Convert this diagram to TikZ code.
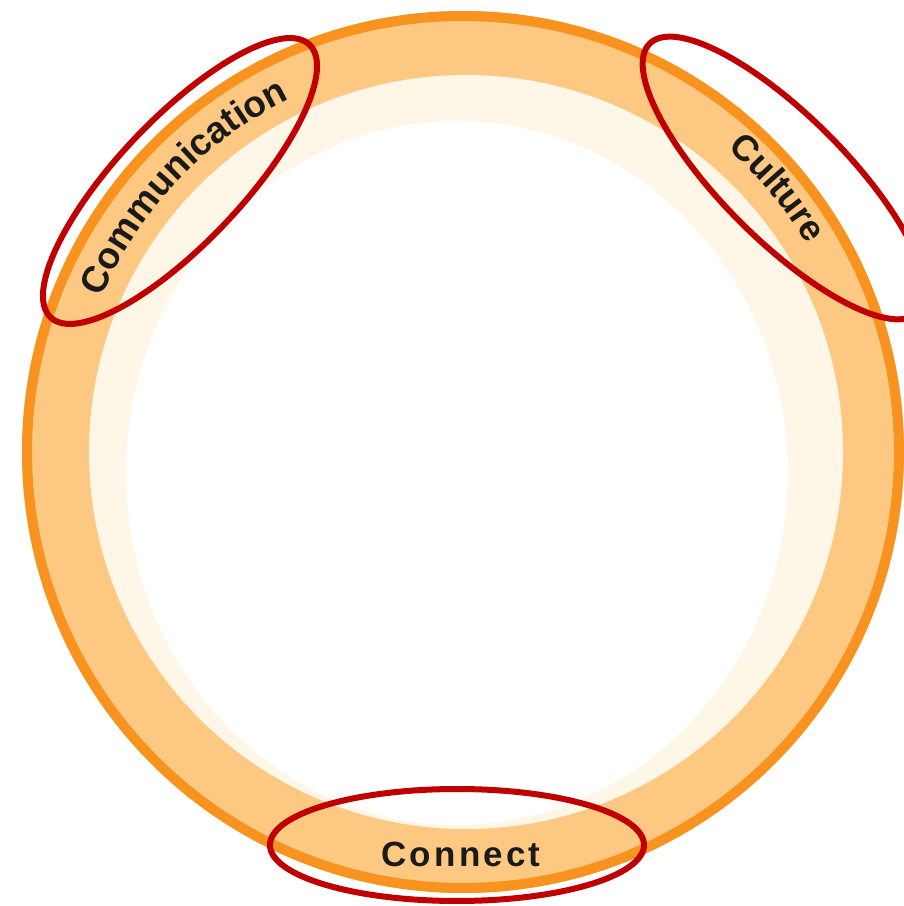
\documentclass[tikz,border=0pt]{standalone}
\usepackage{fontspec}
\setmainfont{Liberation Sans}
\usetikzlibrary{decorations.text,calc}
\definecolor{ringdark}{HTML}{F7931E}
\definecolor{ringlight}{HTML}{FDC982}
\definecolor{cream}{HTML}{FEF6E6}
\definecolor{markred}{HTML}{C00000}
\definecolor{inktext}{HTML}{1A1A1A}
\tikzset{
  marker/.style={draw=markred, line width=6},
  arclabel/.style={decorate, decoration={text along path, text align=center, text color=inktext, text={#1}}}
}
\begin{document}
\begin{tikzpicture}[x=1pt,y=1pt]
\useasboundingbox (0,0) rectangle (904,906);
\clip (0,0) rectangle (904,906);
\fill[white] (0,0) rectangle (904,906);
\coordinate (C) at (463,454);
% ring
\fill[ringlight] (C) circle[radius=441];
\draw[ringdark, line width=10] (C) circle[radius=436];
\fill[cream] (466,454) circle[radius=377];
\fill[white] (457,433) ellipse[x radius=331, y radius=352];
% curved labels
\path[arclabel={|\fontsize{37}{37}\selectfont\bfseries|Communication}]
  ($(C)+(180:393)$) arc[start angle=180, end angle=93, radius=393];
\path[arclabel={|\fontsize{36}{36}\selectfont\bfseries|Culture}]
  ($(C)+(70:402)$) arc[start angle=70, end angle=10, radius=402];
\node[anchor=base, text=inktext, font=\fontsize{35}{35}\selectfont\bfseries\addfontfeature{LetterSpace=9}] (connect) at (461,39) {Connect};
% red marker ellipses
\draw[marker, rotate around={46.5:(180,725)}] (180,725) ellipse[x radius=188, y radius=62];
\draw[marker, rotate around={-45:(784,728)}] (784,728) ellipse[x radius=190, y radius=62];
\draw[marker] (457,61) ellipse[x radius=187, y radius=56];
\end{tikzpicture}
\end{document}
